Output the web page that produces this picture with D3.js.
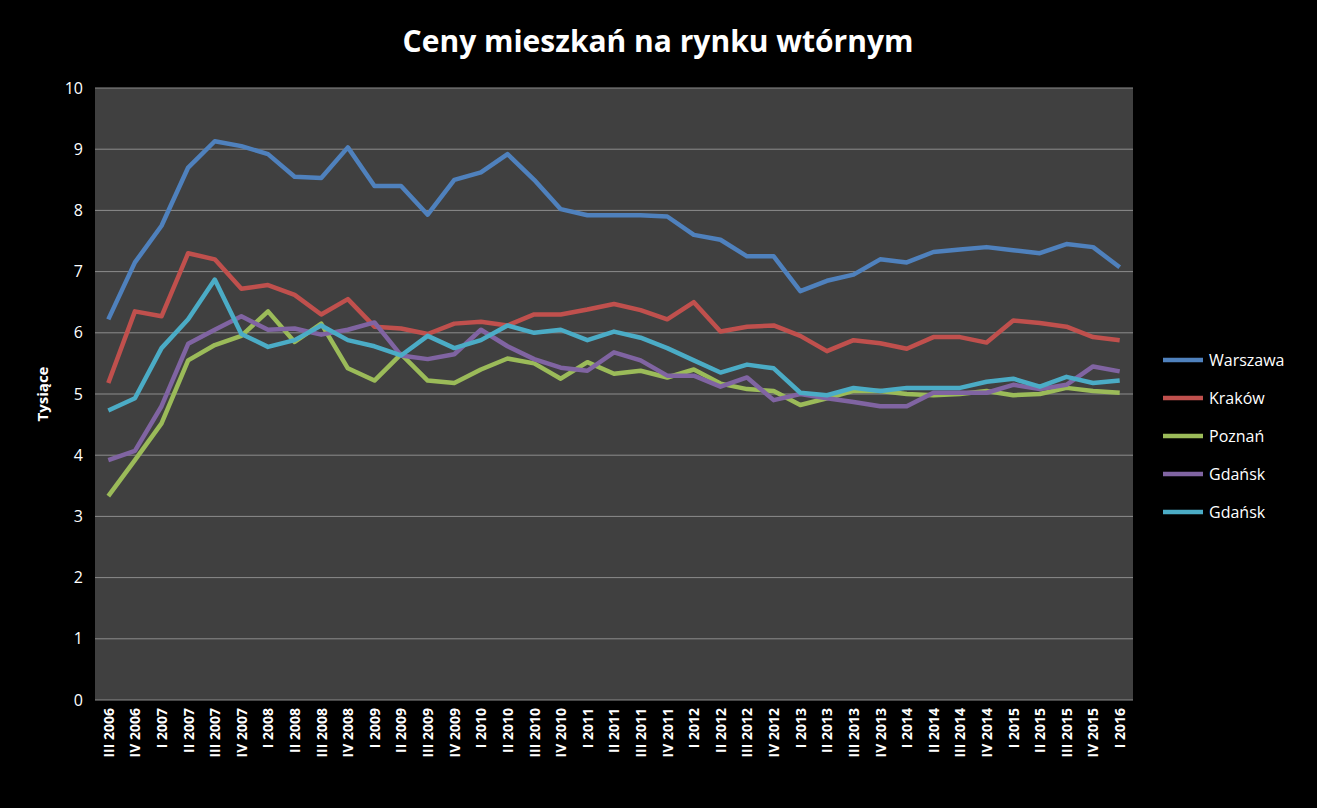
<!DOCTYPE html>
<html><head><meta charset="utf-8">
<script src="https://cdn.jsdelivr.net/npm/d3@7"></script>
<style>body{margin:0;background:#000;}</style>
</head><body>
<svg id="chart" width="1317" height="808"></svg>
<script>
var categories = [];
categories.push("III 2006", "IV 2006");
["2007","2008","2009","2010","2011","2012","2013","2014","2015"].forEach(function(y) {
  ["I","II","III","IV"].forEach(function(q) { categories.push(q + " " + y); });
});
categories.push("I 2016");

var seriesNames = ["Warszawa", "Kraków", "Poznań", "Gdańsk", "Gdańsk"];
var colors = ["#4f81bd", "#c0504d", "#9bbb59", "#8064a2", "#4bacc6"];

var warszawa = [6.22,7.15,7.75,8.7,9.13,9.05,8.92,8.55,8.53,9.03,8.4,8.4,7.93,8.5,8.62,8.92,8.5,8.02,7.92,7.92,7.92,7.9,7.6,7.52,7.25,7.25,6.68,6.85,6.95,7.2,7.15,7.32,7.36,7.4,7.35,7.3,7.45,7.4,7.07];
var krakow = [5.18,6.35,6.27,7.3,7.2,6.72,6.78,6.62,6.3,6.55,6.1,6.07,5.98,6.15,6.18,6.12,6.3,6.3,6.38,6.47,6.37,6.22,6.5,6.02,6.1,6.12,5.95,5.7,5.88,5.83,5.74,5.93,5.93,5.84,6.2,6.16,6.1,5.93,5.88];
var poznan = [3.33,3.92,4.52,5.55,5.8,5.95,6.35,5.85,6.15,5.42,5.22,5.65,5.22,5.18,5.4,5.58,5.5,5.25,5.52,5.33,5.38,5.27,5.4,5.17,5.08,5.05,4.82,4.93,5.05,5.05,5.0,4.98,5.0,5.05,4.98,5.0,5.1,5.05,5.02];
var gdansk1 = [3.92,4.07,4.8,5.82,6.05,6.27,6.05,6.07,5.97,6.05,6.17,5.63,5.57,5.65,6.05,5.78,5.57,5.43,5.38,5.68,5.55,5.3,5.3,5.12,5.27,4.9,5.0,4.93,4.87,4.8,4.8,5.02,5.02,5.02,5.15,5.08,5.15,5.45,5.37];
var gdansk2 = [4.73,4.93,5.75,6.22,6.87,5.98,5.77,5.88,6.12,5.88,5.78,5.63,5.95,5.75,5.88,6.12,6.0,6.05,5.88,6.02,5.92,5.75,5.55,5.35,5.48,5.42,5.02,4.98,5.1,5.05,5.1,5.1,5.1,5.2,5.25,5.12,5.28,5.18,5.22];
var yTicks = [0,1,2,3,4,5,6,7,8,9,10];

var series = [warszawa, krakow, poznan, gdansk1, gdansk2];

var margin = {top: 88, left: 95, right: 184, bottom: 108};
var width = 1317 - margin.left - margin.right;
var height = 808 - margin.top - margin.bottom;
var font = "'Open Sans', 'Liberation Sans', sans-serif";

var svg = d3.select("#chart");
var g = svg.append("g").attr("transform", "translate(" + margin.left + "," + margin.top + ")");

g.append("rect").attr("width", width).attr("height", height).attr("fill", "#404040");

var x = d3.scalePoint().domain(categories).range([0, width]).padding(0.5);
var y = d3.scaleLinear().domain([0, 10]).range([height, 0]);

g.selectAll(".grid").data(yTicks).enter().append("line")
  .attr("x1", 0).attr("x2", width)
  .attr("y1", function(d) { return y(d); }).attr("y2", function(d) { return y(d); })
  .attr("stroke", "#8c8c8c").attr("stroke-width", 1);

var yAxis = g.append("g").call(d3.axisLeft(y).tickValues(yTicks).tickSize(0).tickPadding(12));
yAxis.select(".domain").remove();
yAxis.selectAll("text").attr("fill", "#fff").style("font-size", "16px").style("font-family", font);

var xAxis = g.append("g").attr("transform", "translate(0," + height + ")")
  .call(d3.axisBottom(x).tickSize(0).tickPadding(8));
xAxis.select(".domain").remove();
xAxis.selectAll("text")
  .attr("fill", "#fff").style("font-size", "14px").style("font-weight", "bold").style("font-family", font)
  .attr("transform", "rotate(-90)").attr("dx", "-8px").attr("dy", "0.35em").attr("y", 0)
  .style("text-anchor", "end");

var line = d3.line().x(function(d, i) { return x(categories[i]); }).y(function(d) { return y(d); });
series.forEach(function(s, k) {
  g.append("path").datum(s).attr("d", line).attr("fill", "none")
    .attr("stroke", colors[k]).attr("stroke-width", 4.5).attr("stroke-linejoin", "round");
});

svg.append("text").attr("x", 658).attr("y", 52).attr("text-anchor", "middle")
  .attr("fill", "#fff").style("font-size", "30px").style("font-weight", "bold").style("font-family", font)
  .text("Ceny mieszkań na rynku wtórnym");

svg.append("text").attr("transform", "translate(48,394) rotate(-90)").attr("text-anchor", "middle")
  .attr("fill", "#fff").style("font-size", "15px").style("font-weight", "bold").style("font-family", font)
  .text("Tysiące");

var legend = svg.append("g").attr("transform", "translate(1163,360)");
seriesNames.forEach(function(name, i) {
  legend.append("line").attr("x1", 0).attr("x2", 40).attr("y1", i * 38).attr("y2", i * 38)
    .attr("stroke", colors[i]).attr("stroke-width", 4.5);
  legend.append("text").attr("x", 46).attr("y", i * 38 + 6).attr("fill", "#fff")
    .style("font-size", "16px").style("font-family", font).text(name);
});
</script>
</body></html>
